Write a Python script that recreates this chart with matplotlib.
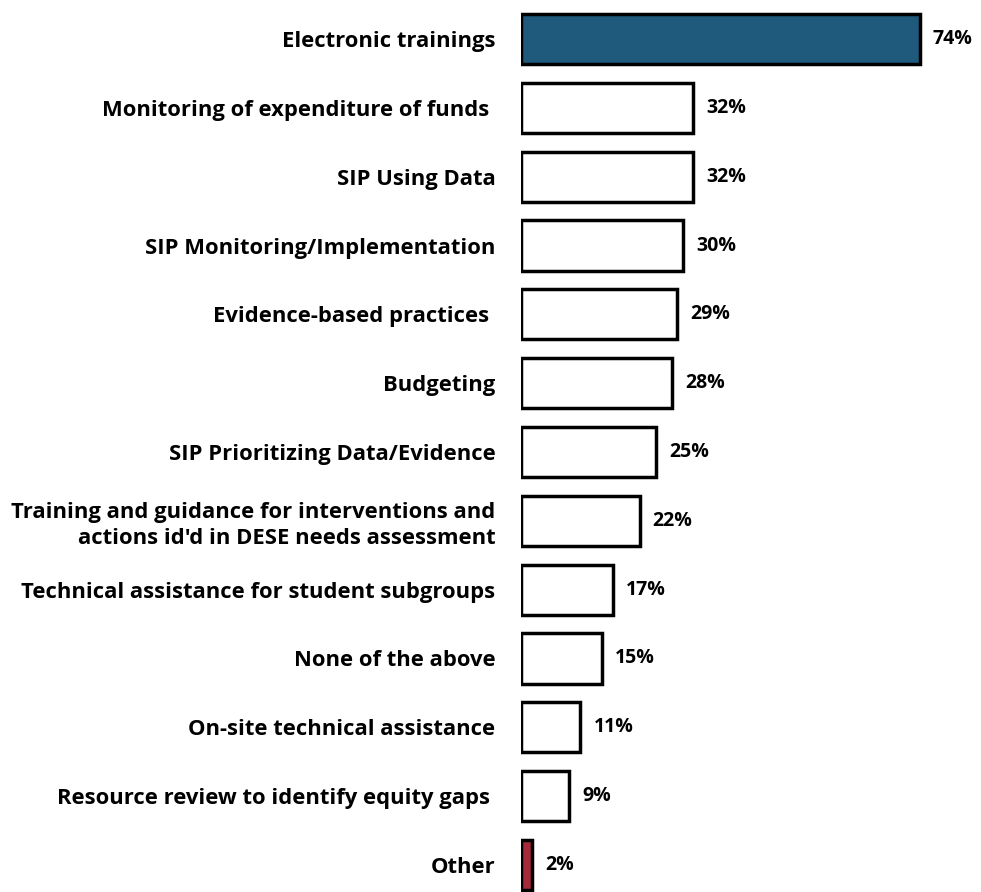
import matplotlib
matplotlib.use("Agg")
import matplotlib.pyplot as plt

categories = [
    "Electronic trainings",
    "Monitoring of expenditure of funds ",
    "SIP Using Data",
    "SIP Monitoring/Implementation",
    "Evidence-based practices ",
    "Budgeting",
    "SIP Prioritizing Data/Evidence",
    "Training and guidance for interventions and\nactions id'd in DESE needs assessment",
    "Technical assistance for student subgroups",
    "None of the above",
    "On-site technical assistance",
    "Resource review to identify equity gaps ",
    "Other",
]
values = [74, 32, 32, 30, 29, 28, 25, 22, 17, 15, 11, 9, 2]
colors = ["#1F5A7C"] + ["#FFFFFF"] * 11 + ["#A52A3A"]

plt.rcParams['font.family'] = ['Open Sans', 'DejaVu Sans']

fig = plt.figure(figsize=(9.81, 8.92), dpi=100)
ax = fig.add_axes([521 / 981, 0, 458 / 981, 1])

y = list(range(len(categories)))
ax.barh(y, values, height=0.73, color=colors, edgecolor="black", linewidth=2.5)
ax.set_xlim(0, 85)
ax.set_ylim(12 + 27 / 68.83, -39 / 68.83)

for yi, v in zip(y, values):
    ax.annotate(f"{v}%", (v, yi), xytext=(9.5, 0), textcoords="offset points",
                va="center", ha="left", fontsize=14, fontweight="bold")

ax.set_yticks(y)
ax.set_yticklabels(categories, fontsize=15.8, fontweight="bold", linespacing=1.3)
ax.tick_params(axis="y", length=0, pad=18.5)
ax.set_xticks([])
for s in ax.spines.values():
    s.set_visible(False)
for lab in ax.get_yticklabels():
    lab.set_multialignment("right")

fig.savefig("out.png", dpi=100)
